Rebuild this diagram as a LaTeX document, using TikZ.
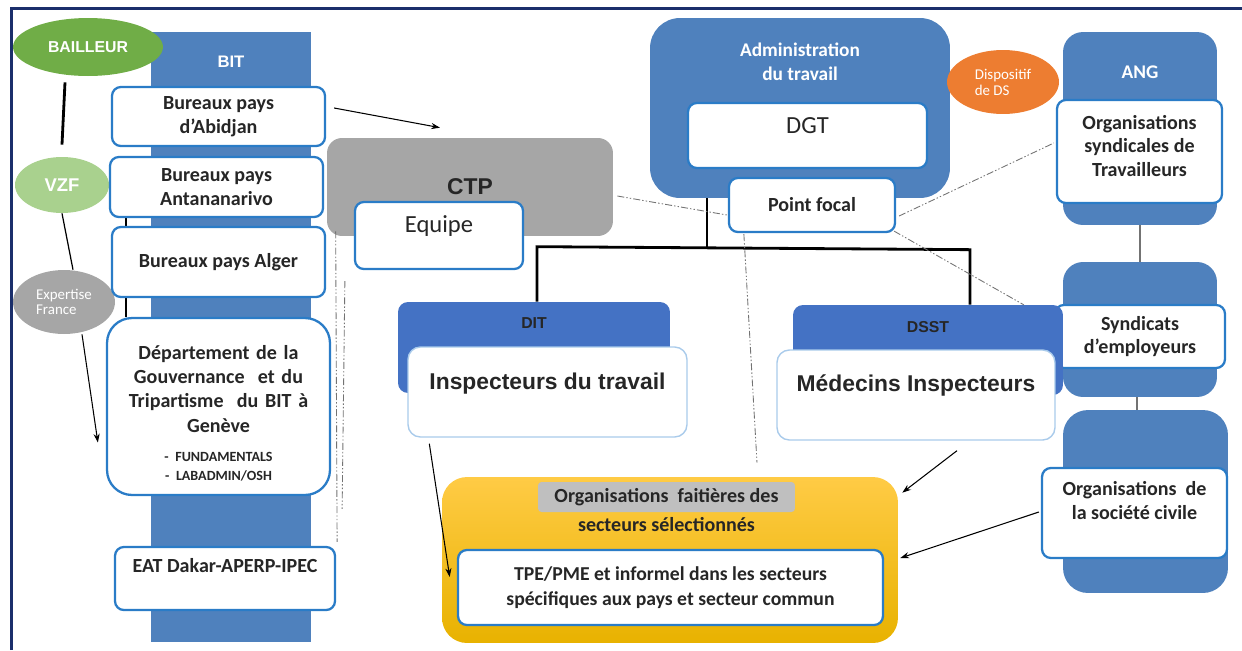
\documentclass[tikz,border=0pt]{standalone}
\usepackage{fontspec}
\setmainfont{Carlito}
\newfontfamily\arialf{Liberation Sans}
\usepackage{tikz}
\usetikzlibrary{calc,backgrounds,arrows.meta,shapes.geometric}
\definecolor{bitblue}{HTML}{4F81BD}
\definecolor{ditblue}{HTML}{4472C4}
\definecolor{boxblue}{HTML}{2A7CC7}
\definecolor{lightbord}{HTML}{A9CBEB}
\definecolor{framenavy}{HTML}{1B2F6B}
\definecolor{ctpgray}{HTML}{A6A6A6}
\definecolor{txt}{HTML}{262626}
\definecolor{bailgreen}{HTML}{70AD47}
\definecolor{vzfgreen}{HTML}{A9D18E}
\definecolor{dsorange}{HTML}{ED7D31}
\definecolor{yeltop}{HTML}{FFCB45}
\definecolor{yelbot}{HTML}{E8B200}

\begin{document}
\begin{tikzpicture}[x=0.02cm,y=-0.02cm,
  blockcol/.style={fill=bitblue,rounded corners=#1,inner sep=0pt},
  bulle/.style={ellipse,inner sep=0pt,text=white},
  bbox/.style={draw=boxblue,line width=1.3pt,fill=white,rounded corners=5pt,inner sep=0pt,
    text=txt,align=center,font=\bfseries\fontsize{11.4}{13.5}\selectfont},
  inspbox/.style={draw=lightbord,line width=0.8pt,fill=white,rounded corners=7pt,inner sep=0pt},
  toplab/.style={anchor=center,text=txt,align=center,yshift=#1},
  orgline/.style={black,line width=1.6pt},
  pointille/.style={black!55,line width=0.5pt,dash pattern=on 4pt off 1.2pt on 0.8pt off 1.2pt on 0.8pt off 1.2pt},
  fleche/.style={-{Stealth[length=5pt,width=3.5pt]},line width=0.6pt}]
  \useasboundingbox (0,0) rectangle (1242,650) ;
  \draw[framenavy,line width=2pt] (11.5,650) -- (11.5,8.5) -- (1242,8.5) ;

  % colonne BIT et bailleurs
  \node[blockcol=0pt,minimum width=3.2cm,minimum height=12.2cm,
    label={[toplab=-0.6cm,text=white,font=\arialf\bfseries\fontsize{9.5}{11}\selectfont]north:BIT}] (bit) at (231,337) {} ;
  \node[bulle,fill=bailgreen,minimum width=3cm,minimum height=1.16cm,font=\arialf\bfseries\fontsize{9}{11}\selectfont] (bail) at (88,47) {BAILLEUR} ;
  \node[bulle,fill=vzfgreen,minimum width=1.88cm,minimum height=1.12cm,font=\arialf\bfseries\fontsize{10.5}{12}\selectfont] (vzf) at (62,185) {VZF} ;
  \node[bulle,fill=ctpgray,minimum width=2.04cm,minimum height=1.28cm,align=left,font=\fontsize{8.5}{8.7}\selectfont] (expf) at (64,302) {Expertise\\France} ;

  \node[bbox,minimum width=4.26cm,minimum height=1.18cm] (abidjan) at (218.5,116.5) {Bureaux pays\\d'Abidjan} ;
  \node[bbox,minimum width=4.26cm,minimum height=1.2cm] (antana) at (216.5,187) {Bureaux pays\\Antananarivo} ;
  \node[bbox,minimum width=4.26cm,minimum height=1.4cm] (alger) at (218.5,262) {Bureaux pays Alger} ;
  \node[bbox,rounded corners=0.5cm,minimum width=4.46cm,minimum height=3.54cm,
    label={[anchor=north,inner sep=0pt,yshift=-0.56cm,text=txt,text width=4.3cm,align=center,
      font=\bfseries\fontsize{11.4}{13.8}\selectfont]north:{Département de la\\Gouvernance\ \ et du\\Tripartisme\ \ du BIT à\\Genève\\[6pt]
     {\fontsize{8}{10.8}\selectfont - FUNDAMENTALS\\- LABADMIN/OSH\endgraf}}}] (dept) at (218.5,406.5) {} ;
  \node[bbox,minimum width=4.4cm,minimum height=1.26cm,
    label={[toplab=-0.4cm,font=\bfseries\fontsize{11.4}{13.5}\selectfont]north:EAT Dakar-APERP-IPEC}] (eat) at (225,578.5) {} ;

  % CTP
  \node[fill=ctpgray,rounded corners=0.3cm,minimum width=5.72cm,minimum height=1.96cm,text=txt,
    font=\arialf\bfseries\fontsize{13}{15}\selectfont] (ctp) at (470,187) {CTP} ;
  \node[bbox,minimum width=3.36cm,minimum height=1.34cm,
    label={[toplab=-0.5cm,font=\fontsize{14}{16}\selectfont]north:Equipe}] (equipe) at (439,235.5) {} ;

  % administration du travail
  \node[blockcol=0.6cm,minimum width=6cm,minimum height=3.6cm,
    label={[toplab=-0.88cm,text=white,font=\bfseries\fontsize{11}{14}\selectfont]north:Administration\\du travail}] (admin) at (800,108) {} ;
  \node[bbox,minimum width=4.78cm,minimum height=1.3cm,
    label={[toplab=-0.48cm,font=\fontsize{14}{16}\selectfont]north:DGT}] (dgt) at (807.5,135.5) {} ;
  \node[bbox,minimum width=3.32cm,minimum height=1.08cm] (pfocal) at (812,205) {Point focal} ;
  \node[bulle,fill=dsorange,minimum width=2.24cm,minimum height=1.28cm,align=left,font=\fontsize{8.5}{9}\selectfont] (ds) at (1003,82) {Dispositif\\de DS} ;

  % ANG
  \node[blockcol=0.4cm,minimum width=3.08cm,minimum height=3.86cm,
    label={[toplab=-0.82cm,text=white,font=\bfseries\fontsize{11}{13}\selectfont]north:ANG}] (ang) at (1140,128.5) {} ;
  \node[bbox,minimum width=3.3cm,minimum height=2.06cm,
    label={[toplab=0.11cm,font=\bfseries\fontsize{11.4}{13.6}\selectfont]center:Organisations\\syndicales de\\Travailleurs}] (orgsynd) at (1139.5,151.5) {} ;
  \node[blockcol=0.4cm,minimum width=3.08cm,minimum height=2.7cm] (ang2) at (1140,329.5) {} ;
  \node[bbox,minimum width=3.4cm,minimum height=1.26cm] (syndemp) at (1140,336.5) {Syndicats\\d’employeurs} ;
  \node[blockcol=0.5cm,minimum width=3.3cm,minimum height=3.66cm] (ang3) at (1145.5,501.5) {} ;
  \node[bbox,minimum width=3.7cm,minimum height=1.8cm,
    label={[toplab=-0.68cm,font=\bfseries\fontsize{11.4}{13.5}\selectfont]north:Organisations\ \ de\\la société civile}] (orgcivile) at (1134.5,513) {} ;
  \draw[black!55,line width=1.4pt] (ang.south) -- (ang2.north) ;
  \draw[black!55,line width=1.4pt] ($(ang2.south)+(-3,0)$) -- ($(ang3.north)+(-8.5,0)$) ;

  % DIT et DSST
  \node[fill=ditblue,rounded corners=0.2cm,minimum width=5.44cm,minimum height=1.82cm,
    label={[toplab=-0.42cm,font=\arialf\bfseries\fontsize{9}{11}\selectfont]north:DIT}] (dit) at (534,347.5) {} ;
  \node[inspbox,minimum width=5.58cm,minimum height=1.8cm,
    label={[toplab=-0.74cm,font=\arialf\bfseries\fontsize{13}{15}\selectfont]north:Inspecteurs du travail}] (inspect) at (547.5,392) {} ;
  \node[fill=ditblue,rounded corners=0.2cm,minimum width=5.4cm,minimum height=1.8cm,
    label={[toplab=-0.44cm,font=\arialf\bfseries\fontsize{9}{11}\selectfont]north:DSST}] (dsst) at (928,350) {} ;
  \node[inspbox,minimum width=5.56cm,minimum height=1.8cm,
    label={[toplab=-0.72cm,font=\arialf\bfseries\fontsize{13}{15}\selectfont]north:Médecins Inspecteurs}] (medecins) at (916,395) {} ;

  % organisations faitieres
  \node[top color=yeltop,bottom color=yelbot,rounded corners=0.5cm,minimum width=9.12cm,minimum height=3.32cm] (faitieres) at (670,560) {} ;
  \node[fill=black!25,rounded corners=2pt,minimum width=5.14cm,minimum height=0.6cm,inner sep=0pt,text=txt,
    font=\bfseries\fontsize{11.4}{13.5}\selectfont,
    label={[anchor=north,inner sep=1pt,yshift=-0.06cm,text=txt,font=\bfseries\fontsize{11.4}{13.5}\selectfont]south:secteurs sélectionnés}] (ofs) at (666.5,497) {\raisebox{-2pt}{Organisations\ \ faitières des}} ;
  \node[bbox,minimum width=8.5cm,minimum height=1.5cm,font=\bfseries\fontsize{11.2}{14}\selectfont] (tpe) at (670.5,587.5)
    {TPE/PME et informel dans les secteurs\\spécifiques aux pays et secteur commun} ;

  % liens
  \draw[orgline] ($(bail.south)+(-23,6)$) -- ($(vzf.north)+(0,-12)$) ;
  \draw[black,line width=0.7pt] (vzf.south) -- ($(expf.north)+(9,0)$) ;
  \draw[fleche] ($(expf.south)+(18,0)$) -- ($(dept.west)+(-8,36)$) ;
  \begin{pgfonlayer}{background}
    \draw[black,line width=1pt] ($(antana.south west)+(17,0)$) -- ($(dept.north west)+(20,0)$) ;
  \end{pgfonlayer}
  \draw[fleche] ($(abidjan.east)+(8,-8.5)$) -- ($(ctp.north)+(-30,-10)$) ;

  \draw[orgline] ($(admin.south)+(-93,0)$) -- ++(0,51) ;
  \draw[orgline] ($(dit.north)+(3,0)$) -- ++(0,-55) -- ($(dsst.north)+(42,-55)$) -- ($(dsst.north)+(42,0)$) ;

  \draw[pointille] ($(ctp.east)+(4,9)$) -- ($(pfocal.west)+(-1,10)$) ;
  \draw[pointille] ($(pfocal.east)+(3,11)$) -- ($(orgsynd.west)+(-2,-8.5)$) ;
  \draw[pointille] ($(pfocal.south east)+(-2,-2)$) -- ($(syndemp.north west)+(-30,1)$) ;
  \draw[pointille] ($(pfocal.south west)+(16,1)$) -- ($(faitieres.north)+(87,-14)$) ;
  \draw[pointille] ($(ctp.south west)+(9,-5)$) -- ($(eat.north east)+(1,-4)$) ;
  \draw[pointille] ($(equipe.south west)+(-9,11)$) -- ($(eat.north east)+(6,-37)$) ;

  \draw[fleche] ($(inspect.south west)+(22,6)$) -- ($(faitieres.west)+(8,17)$) ;
  \draw[fleche] ($(medecins.south)+(41,10)$) -- ($(faitieres.north east)+(4,16)$) ;
  \draw[fleche] ($(orgcivile.west)+(-2,-1)$) -- ($(faitieres.east)+(2,-2)$) ;

\end{tikzpicture}
\end{document}
